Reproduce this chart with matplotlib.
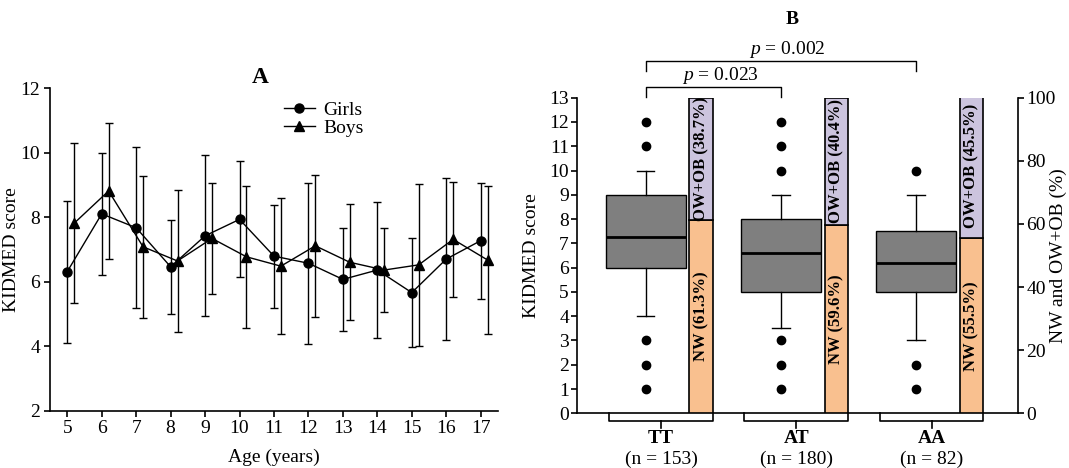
import matplotlib
matplotlib.use('Agg')
import matplotlib.pyplot as plt
from matplotlib.lines import Line2D
import numpy as np

plt.rcParams['font.family'] = ['Liberation Serif', 'DejaVu Serif']
plt.rcParams['font.size'] = 14
plt.rcParams['mathtext.fontset'] = 'custom'
plt.rcParams['mathtext.it'] = 'Liberation Serif:italic'

# panel A: KIDMED score by age (mean, SD)
ages = [5, 6, 7, 8, 9, 10, 11, 12, 13, 14, 15, 16, 17]
girls_mean = [6.31, 8.10, 7.67, 6.46, 7.42, 7.93, 6.79, 6.57, 6.07, 6.36, 5.66, 6.70, 7.27]
girls_sd = [2.20, 1.90, 2.50, 1.45, 2.50, 1.80, 1.60, 2.50, 1.60, 2.10, 1.70, 2.50, 1.80]
boys_mean = [7.81, 8.81, 7.08, 6.64, 7.34, 6.77, 6.48, 7.11, 6.60, 6.36, 6.52, 7.31, 6.67]
boys_sd = [2.48, 2.10, 2.20, 2.20, 1.72, 2.20, 2.10, 2.20, 1.80, 1.30, 2.52, 1.78, 2.30]

# panel B: KIDMED score by genotype
genotypes = ['TT', 'AT', 'AA']
n_counts = [153, 180, 82]
q1 = [6, 5, 5]
medians = [7.28, 6.59, 6.18]
q3 = [9, 8, 7.5]
whis_lo = [4, 3.5, 3]
whis_hi = [10, 9, 9]
outliers = [[1, 2, 3, 11, 12], [1, 2, 3, 10, 11, 12], [1, 2, 10]]
nw_pct = [61.3, 59.6, 55.5]
owob_pct = [38.7, 40.4, 45.5]

fig = plt.figure(figsize=(10.69, 4.68), dpi=100)

# ---------------- panel A ----------------
ax = fig.add_axes([0.0468, 0.1224, 0.419, 0.6895])
x = np.array(ages)
ax.errorbar(x, girls_mean, yerr=girls_sd, color='black', marker='o', ms=6.5,
            lw=1.0, elinewidth=1.0, capsize=3.2, capthick=1.0)
ax.errorbar(x + 0.2, boys_mean, yerr=boys_sd, color='black', marker='^', ms=7,
            lw=1.0, elinewidth=1.0, capsize=3.2, capthick=1.0)
ax.set_xlim(4.5, 17.5)
ax.set_ylim(2, 12)
ax.set_xticks(ages)
ax.set_yticks([2, 4, 6, 8, 10, 12])
for s in ['top', 'right']:
    ax.spines[s].set_visible(False)
for s in ['left', 'bottom']:
    ax.spines[s].set_linewidth(1.2)
ax.tick_params(direction='out', length=4, width=1.2, pad=3)
ax.set_xlabel('Age (years)', labelpad=8)
ax.set_ylabel('KIDMED score')
ax.yaxis.set_label_coords(-0.068, 0.5)
ax.set_title('A', fontweight='bold', pad=2, x=0.47)
handles = [Line2D([], [], color='black', marker='o', ms=6.5, lw=1.0),
           Line2D([], [], color='black', marker='^', ms=7, lw=1.0)]
ax.legend(handles, ['Girls', 'Boys'], loc='upper left', bbox_to_anchor=(0.5, 0.99),
          frameon=False, borderpad=0, handlelength=1.6, handletextpad=0.45,
          labelspacing=0.05)

# ---------------- panel B ----------------
bx = fig.add_axes([0.540, 0.1169, 0.4125, 0.6744])
pos = np.arange(len(genotypes))
stats = []
for i in range(len(genotypes)):
    stats.append(dict(med=medians[i], q1=q1[i], q3=q3[i], whislo=whis_lo[i],
                      whishi=whis_hi[i], fliers=outliers[i]))
bx.bxp(stats, positions=pos, widths=0.59, patch_artist=True, capwidths=0.13,
       boxprops=dict(facecolor='#7f7f7f', edgecolor='black', lw=1.0),
       medianprops=dict(color='black', lw=2.0),
       whiskerprops=dict(color='black', lw=1.0),
       capprops=dict(color='black', lw=1.0),
       flierprops=dict(marker='o', markerfacecolor='black', markeredgecolor='black', ms=6))
bx.set_xlim(-0.505, 2.754)
bx.set_ylim(0, 13)
bx.set_yticks(range(0, 14))
bx.set_xticks([])
bx.spines['top'].set_visible(False)
bx.spines['right'].set_visible(False)
for s in ['left', 'bottom']:
    bx.spines[s].set_linewidth(1.2)
bx.tick_params(axis='y', direction='out', length=4, width=1.2, pad=2)
bx.set_ylabel('KIDMED score')
bx.yaxis.set_label_coords(-0.085, 0.5)

# right axis: NW / OW+OB stacked bars
rx = bx.twinx()
rx.set_ylim(0, 100)
rx.set_yticks([0, 20, 40, 60, 80, 100])
rx.spines['top'].set_visible(False)
rx.spines['left'].set_visible(False)
rx.spines['bottom'].set_visible(False)
rx.spines['right'].set_linewidth(1.2)
rx.tick_params(axis='y', direction='out', length=4, width=1.2, pad=2)
fig.text(1058 / 1069, 0.4545, 'NW and OW+OB (%)', rotation=90, ha='center', va='center')
bar_x = pos + 0.41
rx.bar(bar_x, nw_pct, width=0.173, color='#f9c08f', edgecolor='black', lw=1.2)
rx.bar(bar_x, owob_pct, width=0.173, bottom=nw_pct, color='#ccc4de', edgecolor='black', lw=1.2)
for i in range(len(genotypes)):
    rx.text(bar_x[i], nw_pct[i] / 2, 'NW (%.1f%%)' % nw_pct[i], rotation=90,
            ha='center', va='center', fontweight='bold', fontsize=12)
    rx.text(bar_x[i], nw_pct[i] + owob_pct[i] / 2, 'OW+OB (%.1f%%)' % owob_pct[i],
            rotation=90, ha='center', va='center', fontweight='bold', fontsize=12)

# group brackets and labels below the axis
for i in range(len(genotypes)):
    x0, x1 = pos[i] - 0.27, pos[i] + 0.497
    xc = (x0 + x1) / 2
    bx.plot([x0, x0, x1, x1], [0, -0.3, -0.3, 0], color='black', lw=1.2, clip_on=False)
    bx.plot([xc, xc], [-0.3, -0.6], color='black', lw=1.2, clip_on=False)
    bx.text(xc, -0.7, genotypes[i], ha='center', va='top', fontweight='bold')
    bx.text(xc, -1.55, '(n = %d)' % n_counts[i], ha='center', va='top')

# significance brackets
sig = [(0, 1, 13.43, '0.023'), (0, 2, 14.51, '0.002')]
for a, b, yy, pv in sig:
    bx.plot([pos[a], pos[a], pos[b], pos[b]], [yy - 0.4, yy, yy, yy - 0.4],
            color='black', lw=1.0, clip_on=False)
    bx.text((pos[a] + pos[b]) / 2 + 0.05, yy + 0.05, r'$p$ = ' + pv, ha='center', va='bottom')

bx.text(1.0 + 0.08, 16.2, 'B', ha='center', va='center', fontweight='bold')

fig.savefig('out.png', dpi=100)
